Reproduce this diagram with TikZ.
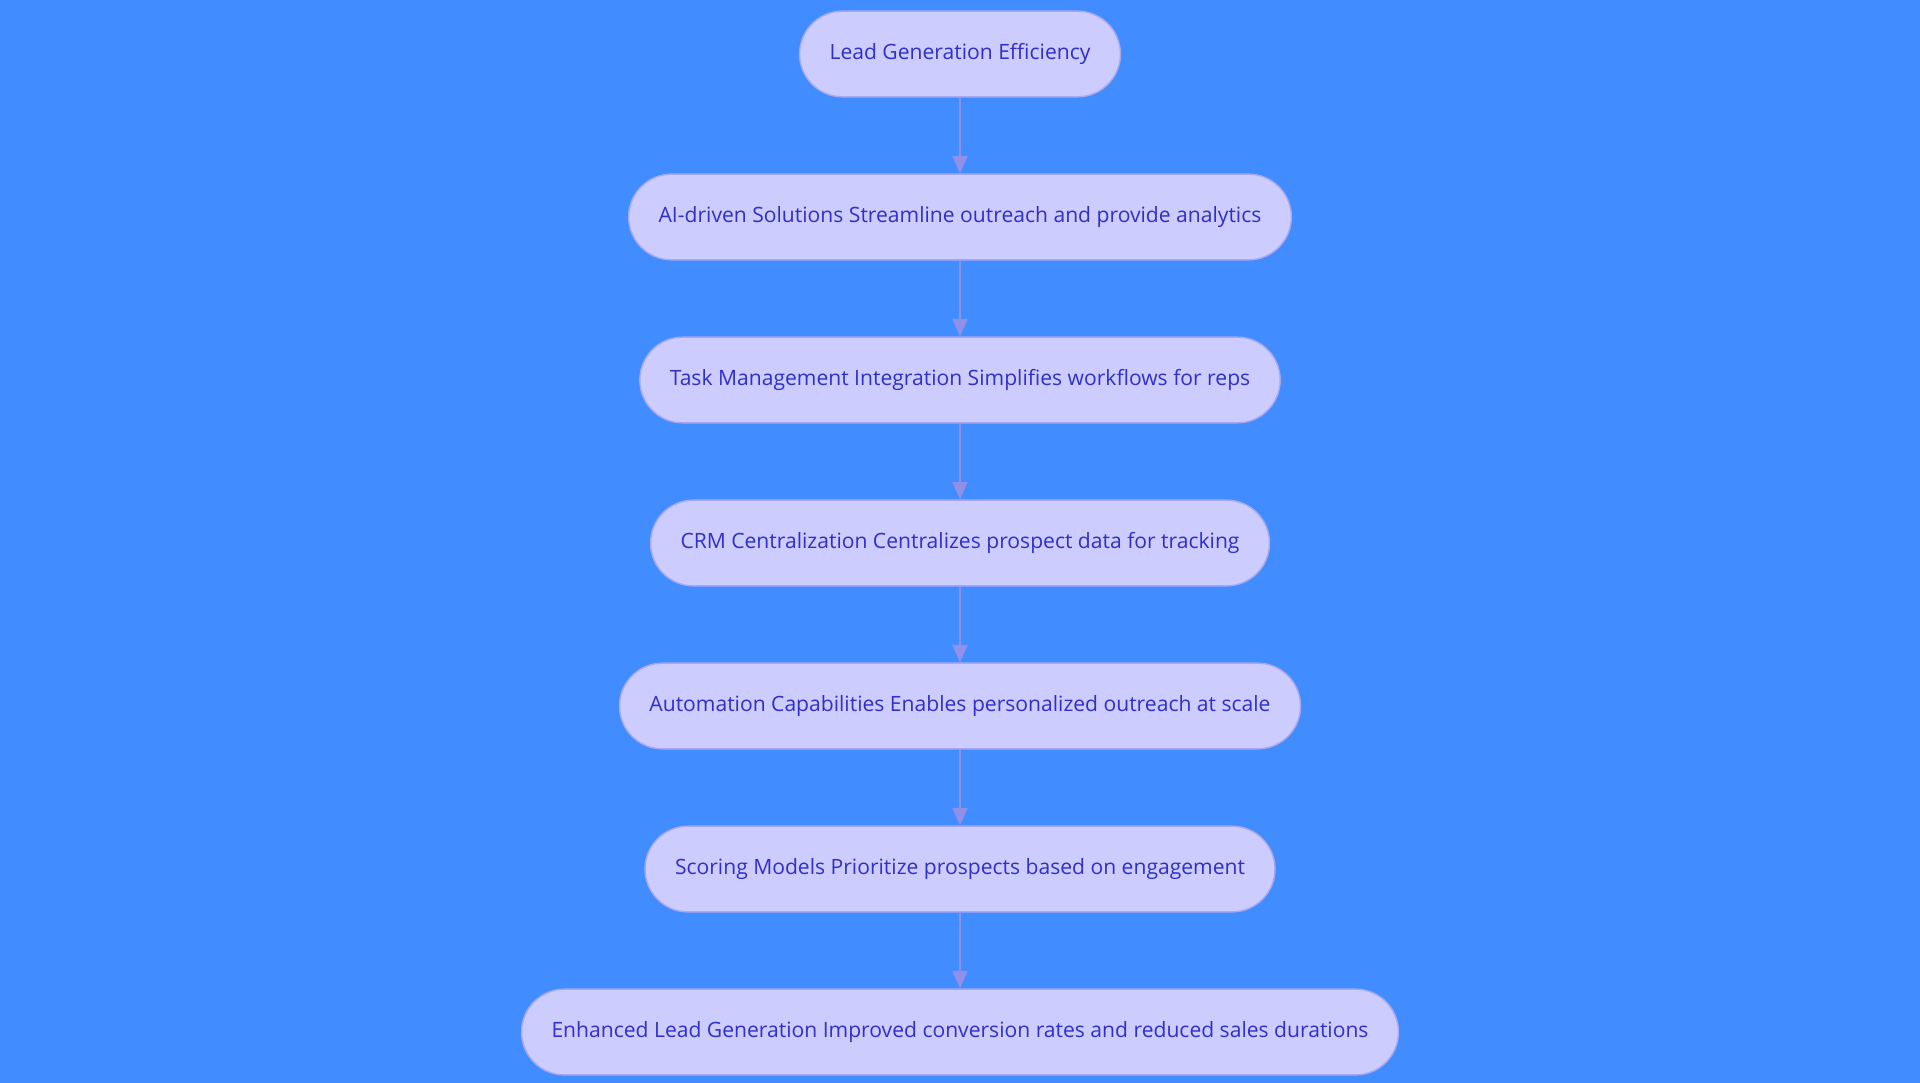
\documentclass[tikz,border=0pt]{standalone}
\usepackage{fontspec}
\setmainfont{Open Sans}
\usetikzlibrary{positioning,arrows.meta}
\definecolor{bgblue}{HTML}{418CFF}
\definecolor{pillfill}{HTML}{CCCCFF}
\definecolor{pilldraw}{HTML}{A8A8F0}
\definecolor{pilltext}{HTML}{3030C8}
\definecolor{linkcol}{HTML}{9090E8}
\begin{document}
\begin{tikzpicture}[
  pill/.style={draw=pilldraw,line width=0.8pt,fill=pillfill,text=pilltext,
    rounded corners=0.857cm,minimum height=1.714cm,inner xsep=0.6cm,
    font=\fontsize{12}{14}\selectfont},
  link/.style={-{Triangle[length=0.35cm,width=0.3cm]},draw=linkcol,line width=1.2pt},
  node distance=1.518cm]

% background and bounding box
\fill[bgblue] (0,0) rectangle (38.4,-21.66);
\useasboundingbox (0,0) rectangle (38.4,-21.66);

% Stack the pills from top to bottom
\node[pill] (lead) at (19.2,-1.08) {Lead Generation Efficiency};
\node[pill,below=of lead] (ai) {AI-driven Solutions Streamline outreach and provide analytics};
\node[pill,below=of ai] (task) {Task Management Integration Simplifies workflows for reps};
\node[pill,below=of task] (crm) {CRM Centralization Centralizes prospect data for tracking};
\node[pill,below=of crm] (auto) {Automation Capabilities Enables personalized outreach at scale};
\node[pill,below=of auto] (score) {Scoring Models Prioritize prospects based on engagement};
\node[pill,below=of score] (enh) {Enhanced Lead Generation Improved conversion rates and reduced sales durations};

% Connect them
\foreach \a/\b in {lead/ai,ai/task,task/crm,crm/auto,auto/score,score/enh}
  \draw[link] (\a) -- (\b);

\end{tikzpicture}
\end{document}
